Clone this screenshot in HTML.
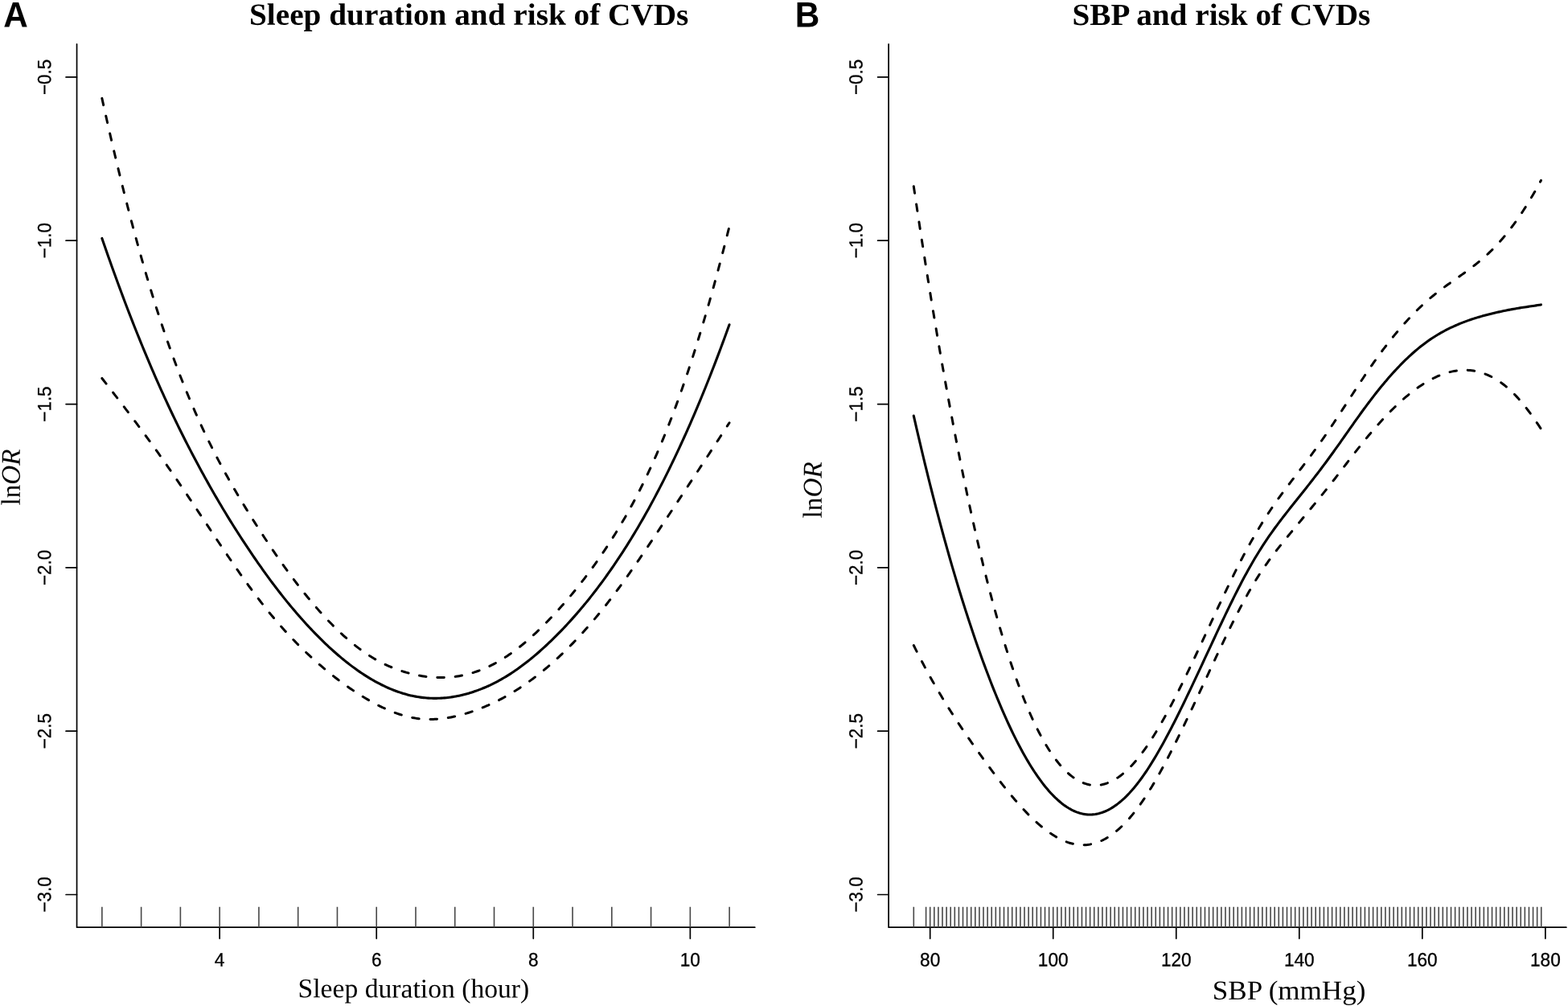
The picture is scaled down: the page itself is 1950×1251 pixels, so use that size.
<!DOCTYPE html>
<html lang="en"><head><meta charset="utf-8"><title>Sleep duration, SBP and risk of CVDs</title>
<style>html,body{margin:0;padding:0;background:#fff}body{width:1950px;height:1251px;overflow:hidden}svg{display:block}text{text-rendering:geometricPrecision;fill:#000}.sans{font-family:"Liberation Sans",Arial,Helvetica,sans-serif}.serif{font-family:"Liberation Serif","Times New Roman",Times,serif}.ax{stroke:#000;stroke-width:1.7;fill:none;stroke-linecap:round;stroke-linejoin:round}.rug{stroke:#484848;stroke-width:1.6;fill:none}.fit{stroke:#000;stroke-width:3.1;fill:none;stroke-linecap:round;stroke-linejoin:round}.ci{stroke:#000;stroke-width:3.0;fill:none;stroke-linecap:round;stroke-linejoin:round;stroke-dasharray:8.5 13.9}.tick{font-size:22.4px;text-anchor:middle;stroke:#000;stroke-width:0.3px}.lab{font-size:33.65px}.ttl{font-size:39.25px;font-weight:bold}.pan{font-size:41.5px;font-weight:bold}</style></head><body>
<svg xmlns="http://www.w3.org/2000/svg" width="1950" height="1251" viewBox="0 0 1950 1251">
<rect width="1950" height="1251" fill="#fff"/>
<g id="panel-A">
<path class="ax" d="M95.55,54.90 V1153.20 H938.80"/>
<path class="ax" d="M95.55,95.90 h-13.50M95.55,299.22 h-13.50M95.55,502.54 h-13.50M95.55,705.86 h-13.50M95.55,909.18 h-13.50M95.55,1112.50 h-13.50"/>
<path class="ax" d="M273.15,1153.20 v13.90M468.22,1153.20 v13.90M663.28,1153.20 v13.90M858.35,1153.20 v13.90"/>
<path class="rug" d="M126.85,1127.70 V1153.20M175.62,1127.70 V1153.20M224.38,1127.70 V1153.20M273.15,1127.70 V1153.20M321.92,1127.70 V1153.20M370.68,1127.70 V1153.20M419.45,1127.70 V1153.20M468.22,1127.70 V1153.20M516.98,1127.70 V1153.20M565.75,1127.70 V1153.20M614.52,1127.70 V1153.20M663.28,1127.70 V1153.20M712.05,1127.70 V1153.20M760.82,1127.70 V1153.20M809.58,1127.70 V1153.20M858.35,1127.70 V1153.20M907.12,1127.70 V1153.20"/>
<text class="sans tick" transform="matrix(0.0005,-1,1.05,0,63.25,95.90)">−0.5</text>
<text class="sans tick" transform="matrix(0.0005,-1,1.05,0,63.25,299.22)">−1.0</text>
<text class="sans tick" transform="matrix(0.0005,-1,1.05,0,63.25,502.54)">−1.5</text>
<text class="sans tick" transform="matrix(0.0005,-1,1.05,0,63.25,705.86)">−2.0</text>
<text class="sans tick" transform="matrix(0.0005,-1,1.05,0,63.25,909.18)">−2.5</text>
<text class="sans tick" transform="matrix(0.0005,-1,1.05,0,63.25,1112.50)">−3.0</text>
<text class="sans tick" transform="matrix(1.01,0.0005,0,1.06,273.15,1201.50)">4</text>
<text class="sans tick" transform="matrix(1.01,0.0005,0,1.06,468.22,1201.50)">6</text>
<text class="sans tick" transform="matrix(1.01,0.0005,0,1.06,663.28,1201.50)">8</text>
<text class="sans tick" transform="matrix(1.01,0.0005,0,1.06,858.35,1201.50)">10</text>
<text class="serif lab" transform="matrix(1,0.0005,0,1,514.40,1240.40)" text-anchor="middle">Sleep duration (hour)</text>
<text class="serif lab" transform="matrix(0.0005,-0.988,1,0,24.70,593.45)" text-anchor="middle">ln<tspan font-style="italic">OR</tspan></text>
<text class="serif ttl" transform="matrix(1,0.0005,0,0.975,583.20,30.80)" text-anchor="middle">Sleep duration and risk of CVDs</text>
<text class="sans pan" transform="matrix(1.02,0.0005,0,1.07,4.30,33.50)">A</text>
<path class="ci" stroke-dasharray="8.500 13.935" d="M126.85,122.32 L128.85,131.38 L130.85,140.36 L132.85,149.26 L134.85,158.07 L136.85,166.80 L138.85,175.45 L140.85,184.02 L142.85,192.51 L144.85,200.91 L146.85,209.23 L148.85,217.47 L150.85,225.62 L152.85,233.69 L154.85,241.68 L156.85,249.59 L158.85,257.41 L160.85,265.15 L162.85,272.81 L164.85,280.38 L166.85,287.88 L168.85,295.28 L170.85,302.61 L172.85,309.85 L174.85,317.01 L176.85,324.09 L178.85,331.08 L180.85,337.99 L182.85,344.82 L184.85,351.56 L186.85,358.22 L188.85,364.80 L190.85,371.29 L192.85,377.70 L194.85,384.03 L196.85,390.27 L198.85,396.43 L200.85,402.51 L202.85,408.50 L204.85,414.41 L206.85,420.24 L208.85,425.99 L210.85,431.66 L212.85,437.25 L214.85,442.76 L216.85,448.20 L218.85,453.57 L220.85,458.86 L222.85,464.08 L224.85,469.23 L226.85,474.31 L228.85,479.32 L230.85,484.27 L232.85,489.15 L234.85,493.96 L236.85,498.71 L238.85,503.40 L240.85,508.02 L242.85,512.59 L244.85,517.10 L246.85,521.55 L248.85,525.94 L250.85,530.28 L252.85,534.56 L254.85,538.79 L256.85,542.96 L258.85,547.09 L260.85,551.17 L262.85,555.19 L264.85,559.17 L266.85,563.11 L268.85,567.00 L270.85,570.84 L272.85,574.65 L274.85,578.41 L276.85,582.13 L278.85,585.81 L280.85,589.46 L282.85,593.06 L284.85,596.63 L286.85,600.17 L288.85,603.68 L290.85,607.15 L292.85,610.59 L294.85,614.00 L296.85,617.38 L298.85,620.74 L300.85,624.06 L302.85,627.37 L304.85,630.65 L306.85,633.90 L308.85,637.14 L310.85,640.35 L312.85,643.55 L314.85,646.73 L316.85,649.89 L318.85,653.03 L320.85,656.15 L322.85,659.26 L324.85,662.35 L326.85,665.42 L328.85,668.47 L330.85,671.51 L332.85,674.52 L334.85,677.52 L336.85,680.49 L338.85,683.45 L340.85,686.38 L342.85,689.30 L344.85,692.19 L346.85,695.06 L348.85,697.92 L350.85,700.75 L352.85,703.56 L354.85,706.34 L356.85,709.11 L358.85,711.85 L360.85,714.57 L362.85,717.27 L364.85,719.94 L366.85,722.60 L368.85,725.22 L370.85,727.83 L372.85,730.41 L374.85,732.96 L376.85,735.49 L378.85,738.00 L380.85,740.48 L382.85,742.93 L384.85,745.36 L386.85,747.77 L388.85,750.15 L390.85,752.50 L392.85,754.82 L394.85,757.12 L396.85,759.39 L398.85,761.63 L400.85,763.85 L402.85,766.04 L404.85,768.20 L406.85,770.33 L408.85,772.43 L410.85,774.51 L412.85,776.55 L414.85,778.57 L416.85,780.55 L418.85,782.51 L420.85,784.44 L422.85,786.33 L424.85,788.20 L426.85,790.03 L428.85,791.84 L430.85,793.61 L432.85,795.35 L434.85,797.06 L436.85,798.73 L438.85,800.38 L440.85,801.99 L442.85,803.57 L444.85,805.11 L446.85,806.63 L448.85,808.11 L450.85,809.55 L452.85,810.96 L454.85,812.34 L456.85,813.68 L458.85,814.99 L460.85,816.26 L462.85,817.50 L464.85,818.71 L466.85,819.88 L468.85,821.01 L470.85,822.11 L472.85,823.18 L474.85,824.21 L476.85,825.21 L478.85,826.18 L480.85,827.12 L482.85,828.03 L484.85,828.90 L486.85,829.75 L488.85,830.57 L490.85,831.36 L492.85,832.12 L494.85,832.85 L496.85,833.55 L498.85,834.23 L500.85,834.88 L502.85,835.50 L504.85,836.10 L506.85,836.67 L508.85,837.22 L510.85,837.74 L512.85,838.24 L514.85,838.71 L516.85,839.16 L518.85,839.57 L520.85,839.97 L522.85,840.33 L524.85,840.67 L526.85,840.98 L528.85,841.26 L530.85,841.52 L532.85,841.75 L534.85,841.95 L536.85,842.13 L538.85,842.27 L540.85,842.39 L542.85,842.48 L544.85,842.54 L546.85,842.57 L548.85,842.58 L550.85,842.55 L552.85,842.50 L554.85,842.41 L556.85,842.30 L558.85,842.15 L560.85,841.98 L562.85,841.78 L564.85,841.54 L566.85,841.28 L568.85,840.98 L570.85,840.66 L572.85,840.30 L574.85,839.91 L576.85,839.49 L578.85,839.04 L580.85,838.56 L582.85,838.04 L584.85,837.50 L586.85,836.92 L588.85,836.31 L590.85,835.66 L592.85,834.98 L594.85,834.28 L596.85,833.53 L598.85,832.76 L600.85,831.95 L602.85,831.10 L604.85,830.23 L606.85,829.32 L608.85,828.37 L610.85,827.39 L612.85,826.38 L614.85,825.33 L616.85,824.25 L618.85,823.13 L620.85,821.98 L622.85,820.79 L624.85,819.57 L626.85,818.32 L628.85,817.03 L630.85,815.71 L632.85,814.36 L634.85,812.98 L636.85,811.56 L638.85,810.11 L640.85,808.62 L642.85,807.11 L644.85,805.56 L646.85,803.98 L648.85,802.37 L650.85,800.73 L652.85,799.06 L654.85,797.35 L656.85,795.62 L658.85,793.86 L660.85,792.07 L662.85,790.25 L664.85,788.40 L666.85,786.53 L668.85,784.63 L670.85,782.70 L672.85,780.75 L674.85,778.77 L676.85,776.78 L678.85,774.75 L680.85,772.71 L682.85,770.64 L684.85,768.56 L686.85,766.45 L688.85,764.32 L690.85,762.16 L692.85,759.99 L694.85,757.79 L696.85,755.57 L698.85,753.33 L700.85,751.06 L702.85,748.77 L704.85,746.45 L706.85,744.12 L708.85,741.75 L710.85,739.36 L712.85,736.95 L714.85,734.51 L716.85,732.04 L718.85,729.55 L720.85,727.03 L722.85,724.48 L724.85,721.91 L726.85,719.30 L728.85,716.68 L730.85,714.02 L732.85,711.33 L734.85,708.62 L736.85,705.87 L738.85,703.10 L740.85,700.29 L742.85,697.46 L744.85,694.60 L746.85,691.70 L748.85,688.78 L750.85,685.82 L752.85,682.83 L754.85,679.81 L756.85,676.76 L758.85,673.67 L760.85,670.55 L762.85,667.39 L764.85,664.19 L766.85,660.96 L768.85,657.68 L770.85,654.37 L772.85,651.01 L774.85,647.61 L776.85,644.16 L778.85,640.67 L780.85,637.14 L782.85,633.55 L784.85,629.92 L786.85,626.24 L788.85,622.50 L790.85,618.72 L792.85,614.88 L794.85,610.99 L796.85,607.04 L798.85,603.04 L800.85,598.98 L802.85,594.85 L804.85,590.67 L806.85,586.43 L808.85,582.13 L810.85,577.77 L812.85,573.33 L814.85,568.84 L816.85,564.28 L818.85,559.65 L820.85,554.95 L822.85,550.18 L824.85,545.35 L826.85,540.44 L828.85,535.47 L830.85,530.43 L832.85,525.31 L834.85,520.12 L836.85,514.86 L838.85,509.53 L840.85,504.13 L842.85,498.65 L844.85,493.10 L846.85,487.47 L848.85,481.77 L850.85,476.00 L852.85,470.15 L854.85,464.22 L856.85,458.21 L858.85,452.13 L860.85,445.97 L862.85,439.74 L864.85,433.42 L866.85,427.03 L868.85,420.56 L870.85,414.01 L872.85,407.38 L874.85,400.67 L876.85,393.88 L878.85,387.02 L880.85,380.07 L882.85,373.04 L884.85,365.94 L886.85,358.75 L888.85,351.48 L890.85,344.13 L892.85,336.70 L894.85,329.19 L896.85,321.59 L898.85,313.91 L900.85,306.15 L902.85,298.31 L904.85,290.39 L907.02,281.71"/>
<path class="ci" stroke-dasharray="8.500 13.935" d="M126.85,470.46 L128.85,473.03 L130.85,475.60 L132.85,478.17 L134.85,480.74 L136.85,483.32 L138.85,485.90 L140.85,488.49 L142.85,491.07 L144.85,493.67 L146.85,496.26 L148.85,498.86 L150.85,501.47 L152.85,504.08 L154.85,506.70 L156.85,509.32 L158.85,511.95 L160.85,514.58 L162.85,517.22 L164.85,519.87 L166.85,522.53 L168.85,525.19 L170.85,527.87 L172.85,530.55 L174.85,533.24 L176.85,535.93 L178.85,538.64 L180.85,541.36 L182.85,544.08 L184.85,546.82 L186.85,549.57 L188.85,552.33 L190.85,555.10 L192.85,557.88 L194.85,560.67 L196.85,563.47 L198.85,566.29 L200.85,569.12 L202.85,571.95 L204.85,574.80 L206.85,577.66 L208.85,580.53 L210.85,583.41 L212.85,586.29 L214.85,589.19 L216.85,592.10 L218.85,595.01 L220.85,597.93 L222.85,600.87 L224.85,603.80 L226.85,606.75 L228.85,609.71 L230.85,612.67 L232.85,615.63 L234.85,618.61 L236.85,621.59 L238.85,624.58 L240.85,627.57 L242.85,630.57 L244.85,633.57 L246.85,636.58 L248.85,639.59 L250.85,642.60 L252.85,645.62 L254.85,648.64 L256.85,651.66 L258.85,654.68 L260.85,657.69 L262.85,660.71 L264.85,663.72 L266.85,666.73 L268.85,669.74 L270.85,672.74 L272.85,675.74 L274.85,678.72 L276.85,681.70 L278.85,684.68 L280.85,687.64 L282.85,690.59 L284.85,693.53 L286.85,696.46 L288.85,699.38 L290.85,702.29 L292.85,705.18 L294.85,708.06 L296.85,710.92 L298.85,713.77 L300.85,716.60 L302.85,719.42 L304.85,722.21 L306.85,724.99 L308.85,727.76 L310.85,730.50 L312.85,733.22 L314.85,735.93 L316.85,738.61 L318.85,741.27 L320.85,743.91 L322.85,746.52 L324.85,749.12 L326.85,751.68 L328.85,754.23 L330.85,756.74 L332.85,759.24 L334.85,761.70 L336.85,764.14 L338.85,766.55 L340.85,768.93 L342.85,771.29 L344.85,773.62 L346.85,775.93 L348.85,778.21 L350.85,780.47 L352.85,782.70 L354.85,784.90 L356.85,787.09 L358.85,789.24 L360.85,791.38 L362.85,793.49 L364.85,795.58 L366.85,797.64 L368.85,799.68 L370.85,801.70 L372.85,803.70 L374.85,805.67 L376.85,807.62 L378.85,809.55 L380.85,811.46 L382.85,813.35 L384.85,815.22 L386.85,817.07 L388.85,818.90 L390.85,820.70 L392.85,822.49 L394.85,824.26 L396.85,826.01 L398.85,827.74 L400.85,829.45 L402.85,831.15 L404.85,832.82 L406.85,834.48 L408.85,836.11 L410.85,837.73 L412.85,839.33 L414.85,840.91 L416.85,842.47 L418.85,844.01 L420.85,845.54 L422.85,847.04 L424.85,848.53 L426.85,849.99 L428.85,851.44 L430.85,852.87 L432.85,854.27 L434.85,855.66 L436.85,857.03 L438.85,858.38 L440.85,859.71 L442.85,861.03 L444.85,862.32 L446.85,863.59 L448.85,864.84 L450.85,866.08 L452.85,867.29 L454.85,868.49 L456.85,869.66 L458.85,870.82 L460.85,871.96 L462.85,873.07 L464.85,874.16 L466.85,875.23 L468.85,876.28 L470.85,877.31 L472.85,878.31 L474.85,879.28 L476.85,880.24 L478.85,881.16 L480.85,882.06 L482.85,882.93 L484.85,883.78 L486.85,884.60 L488.85,885.39 L490.85,886.15 L492.85,886.88 L494.85,887.58 L496.85,888.25 L498.85,888.89 L500.85,889.49 L502.85,890.07 L504.85,890.61 L506.85,891.12 L508.85,891.59 L510.85,892.03 L512.85,892.43 L514.85,892.80 L516.85,893.13 L518.85,893.42 L520.85,893.68 L522.85,893.90 L524.85,894.09 L526.85,894.24 L528.85,894.36 L530.85,894.44 L532.85,894.48 L534.85,894.50 L536.85,894.48 L538.85,894.43 L540.85,894.35 L542.85,894.24 L544.85,894.09 L546.85,893.92 L548.85,893.72 L550.85,893.48 L552.85,893.22 L554.85,892.93 L556.85,892.62 L558.85,892.27 L560.85,891.90 L562.85,891.51 L564.85,891.09 L566.85,890.64 L568.85,890.17 L570.85,889.68 L572.85,889.16 L574.85,888.62 L576.85,888.05 L578.85,887.47 L580.85,886.86 L582.85,886.23 L584.85,885.59 L586.85,884.92 L588.85,884.23 L590.85,883.52 L592.85,882.79 L594.85,882.04 L596.85,881.27 L598.85,880.48 L600.85,879.67 L602.85,878.84 L604.85,877.99 L606.85,877.11 L608.85,876.22 L610.85,875.31 L612.85,874.37 L614.85,873.41 L616.85,872.43 L618.85,871.43 L620.85,870.41 L622.85,869.37 L624.85,868.31 L626.85,867.22 L628.85,866.12 L630.85,864.99 L632.85,863.84 L634.85,862.66 L636.85,861.47 L638.85,860.25 L640.85,859.02 L642.85,857.76 L644.85,856.48 L646.85,855.17 L648.85,853.84 L650.85,852.50 L652.85,851.12 L654.85,849.73 L656.85,848.31 L658.85,846.88 L660.85,845.41 L662.85,843.93 L664.85,842.42 L666.85,840.89 L668.85,839.34 L670.85,837.76 L672.85,836.17 L674.85,834.54 L676.85,832.90 L678.85,831.23 L680.85,829.54 L682.85,827.83 L684.85,826.09 L686.85,824.33 L688.85,822.55 L690.85,820.74 L692.85,818.92 L694.85,817.07 L696.85,815.19 L698.85,813.29 L700.85,811.37 L702.85,809.43 L704.85,807.46 L706.85,805.47 L708.85,803.46 L710.85,801.42 L712.85,799.36 L714.85,797.28 L716.85,795.17 L718.85,793.05 L720.85,790.89 L722.85,788.72 L724.85,786.52 L726.85,784.30 L728.85,782.05 L730.85,779.78 L732.85,777.49 L734.85,775.18 L736.85,772.84 L738.85,770.48 L740.85,768.09 L742.85,765.68 L744.85,763.25 L746.85,760.79 L748.85,758.31 L750.85,755.81 L752.85,753.29 L754.85,750.74 L756.85,748.16 L758.85,745.57 L760.85,742.95 L762.85,740.31 L764.85,737.65 L766.85,734.96 L768.85,732.26 L770.85,729.54 L772.85,726.79 L774.85,724.03 L776.85,721.25 L778.85,718.46 L780.85,715.64 L782.85,712.82 L784.85,709.97 L786.85,707.11 L788.85,704.24 L790.85,701.35 L792.85,698.46 L794.85,695.54 L796.85,692.62 L798.85,689.69 L800.85,686.74 L802.85,683.79 L804.85,680.83 L806.85,677.86 L808.85,674.88 L810.85,671.89 L812.85,668.90 L814.85,665.90 L816.85,662.89 L818.85,659.88 L820.85,656.87 L822.85,653.85 L824.85,650.83 L826.85,647.81 L828.85,644.79 L830.85,641.76 L832.85,638.74 L834.85,635.72 L836.85,632.69 L838.85,629.67 L840.85,626.64 L842.85,623.62 L844.85,620.59 L846.85,617.57 L848.85,614.54 L850.85,611.51 L852.85,608.49 L854.85,605.46 L856.85,602.43 L858.85,599.40 L860.85,596.37 L862.85,593.34 L864.85,590.30 L866.85,587.27 L868.85,584.23 L870.85,581.19 L872.85,578.15 L874.85,575.11 L876.85,572.06 L878.85,569.02 L880.85,565.97 L882.85,562.91 L884.85,559.86 L886.85,556.80 L888.85,553.74 L890.85,550.68 L892.85,547.61 L894.85,544.55 L896.85,541.47 L898.85,538.40 L900.85,535.32 L902.85,532.24 L904.85,529.15 L907.02,525.80"/>
<path class="fit" d="M126.85,296.39 L128.85,302.20 L130.85,307.98 L132.85,313.71 L134.85,319.41 L136.85,325.06 L138.85,330.68 L140.85,336.25 L142.85,341.79 L144.85,347.29 L146.85,352.75 L148.85,358.16 L150.85,363.54 L152.85,368.89 L154.85,374.19 L156.85,379.45 L158.85,384.68 L160.85,389.87 L162.85,395.02 L164.85,400.13 L166.85,405.20 L168.85,410.24 L170.85,415.24 L172.85,420.20 L174.85,425.12 L176.85,430.01 L178.85,434.86 L180.85,439.68 L182.85,444.45 L184.85,449.19 L186.85,453.90 L188.85,458.56 L190.85,463.20 L192.85,467.79 L194.85,472.35 L196.85,476.87 L198.85,481.36 L200.85,485.81 L202.85,490.23 L204.85,494.61 L206.85,498.95 L208.85,503.26 L210.85,507.53 L212.85,511.77 L214.85,515.98 L216.85,520.15 L218.85,524.29 L220.85,528.40 L222.85,532.47 L224.85,536.52 L226.85,540.53 L228.85,544.51 L230.85,548.47 L232.85,552.39 L234.85,556.28 L236.85,560.15 L238.85,563.99 L240.85,567.80 L242.85,571.58 L244.85,575.33 L246.85,579.06 L248.85,582.76 L250.85,586.44 L252.85,590.09 L254.85,593.71 L256.85,597.31 L258.85,600.88 L260.85,604.43 L262.85,607.95 L264.85,611.45 L266.85,614.92 L268.85,618.37 L270.85,621.79 L272.85,625.19 L274.85,628.57 L276.85,631.92 L278.85,635.24 L280.85,638.55 L282.85,641.83 L284.85,645.08 L286.85,648.32 L288.85,651.53 L290.85,654.72 L292.85,657.88 L294.85,661.03 L296.85,664.15 L298.85,667.25 L300.85,670.33 L302.85,673.39 L304.85,676.43 L306.85,679.45 L308.85,682.45 L310.85,685.43 L312.85,688.39 L314.85,691.33 L316.85,694.25 L318.85,697.15 L320.85,700.03 L322.85,702.89 L324.85,705.73 L326.85,708.55 L328.85,711.35 L330.85,714.12 L332.85,716.88 L334.85,719.61 L336.85,722.31 L338.85,725.00 L340.85,727.66 L342.85,730.29 L344.85,732.91 L346.85,735.50 L348.85,738.06 L350.85,740.61 L352.85,743.13 L354.85,745.62 L356.85,748.10 L358.85,750.55 L360.85,752.98 L362.85,755.38 L364.85,757.76 L366.85,760.12 L368.85,762.45 L370.85,764.76 L372.85,767.05 L374.85,769.32 L376.85,771.56 L378.85,773.78 L380.85,775.97 L382.85,778.14 L384.85,780.29 L386.85,782.42 L388.85,784.52 L390.85,786.60 L392.85,788.66 L394.85,790.69 L396.85,792.70 L398.85,794.69 L400.85,796.65 L402.85,798.59 L404.85,800.51 L406.85,802.40 L408.85,804.27 L410.85,806.12 L412.85,807.94 L414.85,809.74 L416.85,811.51 L418.85,813.26 L420.85,814.99 L422.85,816.69 L424.85,818.36 L426.85,820.01 L428.85,821.64 L430.85,823.24 L432.85,824.81 L434.85,826.36 L436.85,827.88 L438.85,829.38 L440.85,830.85 L442.85,832.30 L444.85,833.72 L446.85,835.11 L448.85,836.47 L450.85,837.81 L452.85,839.13 L454.85,840.41 L456.85,841.67 L458.85,842.91 L460.85,844.11 L462.85,845.29 L464.85,846.44 L466.85,847.56 L468.85,848.65 L470.85,849.71 L472.85,850.74 L474.85,851.75 L476.85,852.72 L478.85,853.67 L480.85,854.59 L482.85,855.48 L484.85,856.34 L486.85,857.17 L488.85,857.98 L490.85,858.75 L492.85,859.50 L494.85,860.21 L496.85,860.90 L498.85,861.56 L500.85,862.19 L502.85,862.78 L504.85,863.35 L506.85,863.89 L508.85,864.41 L510.85,864.89 L512.85,865.34 L514.85,865.75 L516.85,866.14 L518.85,866.50 L520.85,866.82 L522.85,867.12 L524.85,867.38 L526.85,867.61 L528.85,867.81 L530.85,867.98 L532.85,868.12 L534.85,868.23 L536.85,868.30 L538.85,868.35 L540.85,868.37 L542.85,868.36 L544.85,868.32 L546.85,868.25 L548.85,868.15 L550.85,868.02 L552.85,867.86 L554.85,867.67 L556.85,867.46 L558.85,867.21 L560.85,866.94 L562.85,866.64 L564.85,866.31 L566.85,865.96 L568.85,865.58 L570.85,865.17 L572.85,864.73 L574.85,864.26 L576.85,863.77 L578.85,863.25 L580.85,862.71 L582.85,862.14 L584.85,861.54 L586.85,860.92 L588.85,860.27 L590.85,859.59 L592.85,858.89 L594.85,858.16 L596.85,857.40 L598.85,856.62 L600.85,855.81 L602.85,854.97 L604.85,854.11 L606.85,853.22 L608.85,852.30 L610.85,851.35 L612.85,850.37 L614.85,849.37 L616.85,848.34 L618.85,847.28 L620.85,846.20 L622.85,845.08 L624.85,843.94 L626.85,842.77 L628.85,841.57 L630.85,840.35 L632.85,839.10 L634.85,837.82 L636.85,836.51 L638.85,835.18 L640.85,833.82 L642.85,832.43 L644.85,831.02 L646.85,829.58 L648.85,828.11 L650.85,826.61 L652.85,825.09 L654.85,823.54 L656.85,821.97 L658.85,820.37 L660.85,818.74 L662.85,817.09 L664.85,815.41 L666.85,813.71 L668.85,811.98 L670.85,810.23 L672.85,808.46 L674.85,806.66 L676.85,804.84 L678.85,802.99 L680.85,801.13 L682.85,799.24 L684.85,797.32 L686.85,795.39 L688.85,793.43 L690.85,791.45 L692.85,789.45 L694.85,787.43 L696.85,785.38 L698.85,783.31 L700.85,781.22 L702.85,779.10 L704.85,776.96 L706.85,774.79 L708.85,772.60 L710.85,770.39 L712.85,768.15 L714.85,765.89 L716.85,763.61 L718.85,761.30 L720.85,758.96 L722.85,756.60 L724.85,754.21 L726.85,751.80 L728.85,749.36 L730.85,746.90 L732.85,744.41 L734.85,741.90 L736.85,739.35 L738.85,736.79 L740.85,734.19 L742.85,731.57 L744.85,728.92 L746.85,726.25 L748.85,723.55 L750.85,720.82 L752.85,718.06 L754.85,715.27 L756.85,712.46 L758.85,709.62 L760.85,706.75 L762.85,703.85 L764.85,700.92 L766.85,697.96 L768.85,694.97 L770.85,691.95 L772.85,688.90 L774.85,685.82 L776.85,682.71 L778.85,679.56 L780.85,676.39 L782.85,673.18 L784.85,669.95 L786.85,666.68 L788.85,663.37 L790.85,660.04 L792.85,656.67 L794.85,653.27 L796.85,649.83 L798.85,646.36 L800.85,642.86 L802.85,639.32 L804.85,635.75 L806.85,632.15 L808.85,628.50 L810.85,624.83 L812.85,621.12 L814.85,617.37 L816.85,613.59 L818.85,609.77 L820.85,605.91 L822.85,602.02 L824.85,598.09 L826.85,594.13 L828.85,590.13 L830.85,586.09 L832.85,582.02 L834.85,577.92 L836.85,573.78 L838.85,569.60 L840.85,565.38 L842.85,561.13 L844.85,556.85 L846.85,552.52 L848.85,548.16 L850.85,543.76 L852.85,539.32 L854.85,534.84 L856.85,530.32 L858.85,525.77 L860.85,521.17 L862.85,516.54 L864.85,511.86 L866.85,507.15 L868.85,502.39 L870.85,497.60 L872.85,492.76 L874.85,487.89 L876.85,482.97 L878.85,478.02 L880.85,473.02 L882.85,467.98 L884.85,462.90 L886.85,457.78 L888.85,452.61 L890.85,447.40 L892.85,442.16 L894.85,436.87 L896.85,431.53 L898.85,426.16 L900.85,420.74 L902.85,415.27 L904.85,409.77 L907.02,403.76"/>
</g>
<g id="panel-B">
<path class="ax" d="M1105.10,54.90 V1153.20 H1947.90"/>
<path class="ax" d="M1105.10,95.90 h-13.50M1105.10,299.22 h-13.50M1105.10,502.54 h-13.50M1105.10,705.86 h-13.50M1105.10,909.18 h-13.50M1105.10,1112.50 h-13.50"/>
<path class="ax" d="M1156.70,1153.20 v13.90M1309.73,1153.20 v13.90M1462.76,1153.20 v13.90M1615.79,1153.20 v13.90M1768.82,1153.20 v13.90M1921.85,1153.20 v13.90"/>
<path class="rug" d="M1136.30,1127.70 V1153.20M1151.60,1127.70 V1153.20M1156.70,1127.70 V1153.20M1161.80,1127.70 V1153.20M1166.90,1127.70 V1153.20M1172.00,1127.70 V1153.20M1177.10,1127.70 V1153.20M1182.20,1127.70 V1153.20M1187.31,1127.70 V1153.20M1192.41,1127.70 V1153.20M1197.51,1127.70 V1153.20M1202.61,1127.70 V1153.20M1207.71,1127.70 V1153.20M1212.81,1127.70 V1153.20M1217.91,1127.70 V1153.20M1223.01,1127.70 V1153.20M1228.11,1127.70 V1153.20M1233.22,1127.70 V1153.20M1238.32,1127.70 V1153.20M1243.42,1127.70 V1153.20M1248.52,1127.70 V1153.20M1253.62,1127.70 V1153.20M1258.72,1127.70 V1153.20M1263.82,1127.70 V1153.20M1268.92,1127.70 V1153.20M1274.02,1127.70 V1153.20M1279.12,1127.70 V1153.20M1284.22,1127.70 V1153.20M1289.33,1127.70 V1153.20M1294.43,1127.70 V1153.20M1299.53,1127.70 V1153.20M1304.63,1127.70 V1153.20M1309.73,1127.70 V1153.20M1314.83,1127.70 V1153.20M1319.93,1127.70 V1153.20M1325.03,1127.70 V1153.20M1330.13,1127.70 V1153.20M1335.23,1127.70 V1153.20M1340.34,1127.70 V1153.20M1345.44,1127.70 V1153.20M1350.54,1127.70 V1153.20M1355.64,1127.70 V1153.20M1360.74,1127.70 V1153.20M1365.84,1127.70 V1153.20M1370.94,1127.70 V1153.20M1376.04,1127.70 V1153.20M1381.14,1127.70 V1153.20M1386.24,1127.70 V1153.20M1391.35,1127.70 V1153.20M1396.45,1127.70 V1153.20M1401.55,1127.70 V1153.20M1406.65,1127.70 V1153.20M1411.75,1127.70 V1153.20M1416.85,1127.70 V1153.20M1421.95,1127.70 V1153.20M1427.05,1127.70 V1153.20M1432.15,1127.70 V1153.20M1437.25,1127.70 V1153.20M1442.36,1127.70 V1153.20M1447.46,1127.70 V1153.20M1452.56,1127.70 V1153.20M1457.66,1127.70 V1153.20M1462.76,1127.70 V1153.20M1467.86,1127.70 V1153.20M1472.96,1127.70 V1153.20M1478.06,1127.70 V1153.20M1483.16,1127.70 V1153.20M1488.26,1127.70 V1153.20M1493.37,1127.70 V1153.20M1498.47,1127.70 V1153.20M1503.57,1127.70 V1153.20M1508.67,1127.70 V1153.20M1513.77,1127.70 V1153.20M1518.87,1127.70 V1153.20M1523.97,1127.70 V1153.20M1529.07,1127.70 V1153.20M1534.17,1127.70 V1153.20M1539.28,1127.70 V1153.20M1544.38,1127.70 V1153.20M1549.48,1127.70 V1153.20M1554.58,1127.70 V1153.20M1559.68,1127.70 V1153.20M1564.78,1127.70 V1153.20M1569.88,1127.70 V1153.20M1574.98,1127.70 V1153.20M1580.08,1127.70 V1153.20M1585.18,1127.70 V1153.20M1590.28,1127.70 V1153.20M1595.39,1127.70 V1153.20M1600.49,1127.70 V1153.20M1605.59,1127.70 V1153.20M1610.69,1127.70 V1153.20M1615.79,1127.70 V1153.20M1620.89,1127.70 V1153.20M1625.99,1127.70 V1153.20M1631.09,1127.70 V1153.20M1636.19,1127.70 V1153.20M1641.29,1127.70 V1153.20M1646.40,1127.70 V1153.20M1651.50,1127.70 V1153.20M1656.60,1127.70 V1153.20M1661.70,1127.70 V1153.20M1666.80,1127.70 V1153.20M1671.90,1127.70 V1153.20M1677.00,1127.70 V1153.20M1682.10,1127.70 V1153.20M1687.20,1127.70 V1153.20M1692.30,1127.70 V1153.20M1697.41,1127.70 V1153.20M1702.51,1127.70 V1153.20M1707.61,1127.70 V1153.20M1712.71,1127.70 V1153.20M1717.81,1127.70 V1153.20M1722.91,1127.70 V1153.20M1728.01,1127.70 V1153.20M1733.11,1127.70 V1153.20M1738.21,1127.70 V1153.20M1743.31,1127.70 V1153.20M1748.42,1127.70 V1153.20M1753.52,1127.70 V1153.20M1758.62,1127.70 V1153.20M1763.72,1127.70 V1153.20M1768.82,1127.70 V1153.20M1773.92,1127.70 V1153.20M1779.02,1127.70 V1153.20M1784.12,1127.70 V1153.20M1789.22,1127.70 V1153.20M1794.32,1127.70 V1153.20M1799.43,1127.70 V1153.20M1804.53,1127.70 V1153.20M1809.63,1127.70 V1153.20M1814.73,1127.70 V1153.20M1819.83,1127.70 V1153.20M1824.93,1127.70 V1153.20M1830.03,1127.70 V1153.20M1835.13,1127.70 V1153.20M1840.23,1127.70 V1153.20M1845.34,1127.70 V1153.20M1850.44,1127.70 V1153.20M1855.54,1127.70 V1153.20M1860.64,1127.70 V1153.20M1865.74,1127.70 V1153.20M1870.84,1127.70 V1153.20M1875.94,1127.70 V1153.20M1881.04,1127.70 V1153.20M1886.14,1127.70 V1153.20M1891.24,1127.70 V1153.20M1896.34,1127.70 V1153.20M1901.45,1127.70 V1153.20M1906.55,1127.70 V1153.20M1911.65,1127.70 V1153.20M1916.75,1127.70 V1153.20"/>
<text class="sans tick" transform="matrix(0.0005,-1,1.05,0,1072.55,95.90)">−0.5</text>
<text class="sans tick" transform="matrix(0.0005,-1,1.05,0,1072.55,299.22)">−1.0</text>
<text class="sans tick" transform="matrix(0.0005,-1,1.05,0,1072.55,502.54)">−1.5</text>
<text class="sans tick" transform="matrix(0.0005,-1,1.05,0,1072.55,705.86)">−2.0</text>
<text class="sans tick" transform="matrix(0.0005,-1,1.05,0,1072.55,909.18)">−2.5</text>
<text class="sans tick" transform="matrix(0.0005,-1,1.05,0,1072.55,1112.50)">−3.0</text>
<text class="sans tick" transform="matrix(1.01,0.0005,0,1.06,1156.70,1201.50)">80</text>
<text class="sans tick" transform="matrix(1.01,0.0005,0,1.06,1309.73,1201.50)">100</text>
<text class="sans tick" transform="matrix(1.01,0.0005,0,1.06,1462.76,1201.50)">120</text>
<text class="sans tick" transform="matrix(1.01,0.0005,0,1.06,1615.79,1201.50)">140</text>
<text class="sans tick" transform="matrix(1.01,0.0005,0,1.06,1768.82,1201.50)">160</text>
<text class="sans tick" transform="matrix(1.01,0.0005,0,1.06,1921.85,1201.50)">180</text>
<text class="serif lab" transform="matrix(1.042,0.0005,0,1,1603.10,1242.70)" text-anchor="middle">SBP (mmHg)</text>
<text class="serif lab" transform="matrix(0.0005,-0.988,1,0,1021.70,609.40)" text-anchor="middle">ln<tspan font-style="italic">OR</tspan></text>
<text class="serif ttl" transform="matrix(1,0.0005,0,0.975,1518.90,31.00)" text-anchor="middle">SBP and risk of CVDs</text>
<text class="sans pan" transform="matrix(1.02,0.0005,0,1.07,988.80,33.50)">B</text>
<path class="ci" stroke-dasharray="8.500 13.920" d="M1136.30,231.74 L1138.30,245.24 L1140.30,258.62 L1142.30,271.88 L1144.30,285.02 L1146.30,298.04 L1148.30,310.93 L1150.30,323.71 L1152.30,336.36 L1154.30,348.89 L1156.30,361.30 L1158.30,373.59 L1160.30,385.75 L1162.30,397.79 L1164.30,409.71 L1166.30,421.51 L1168.30,433.18 L1170.30,444.73 L1172.30,456.15 L1174.30,467.45 L1176.30,478.62 L1178.30,489.68 L1180.30,500.60 L1182.30,511.40 L1184.30,522.08 L1186.30,532.63 L1188.30,543.06 L1190.30,553.36 L1192.30,563.53 L1194.30,573.58 L1196.30,583.50 L1198.30,593.30 L1200.30,602.97 L1202.30,612.51 L1204.30,621.92 L1206.30,631.21 L1208.30,640.37 L1210.30,649.40 L1212.30,658.31 L1214.30,667.08 L1216.30,675.73 L1218.30,684.25 L1220.30,692.64 L1222.30,700.91 L1224.30,709.04 L1226.30,717.05 L1228.30,724.93 L1230.30,732.68 L1232.30,740.31 L1234.30,747.81 L1236.30,755.18 L1238.30,762.43 L1240.30,769.55 L1242.30,776.54 L1244.30,783.41 L1246.30,790.15 L1248.30,796.77 L1250.30,803.26 L1252.30,809.62 L1254.30,815.86 L1256.30,821.98 L1258.30,827.97 L1260.30,833.84 L1262.30,839.58 L1264.30,845.20 L1266.30,850.70 L1268.30,856.07 L1270.30,861.32 L1272.30,866.45 L1274.30,871.45 L1276.30,876.33 L1278.30,881.09 L1280.30,885.73 L1282.30,890.24 L1284.30,894.64 L1286.30,898.91 L1288.30,903.06 L1290.30,907.09 L1292.30,911.00 L1294.30,914.79 L1296.30,918.46 L1298.30,922.02 L1300.30,925.45 L1302.30,928.77 L1304.30,931.98 L1306.30,935.06 L1308.30,938.03 L1310.30,940.89 L1312.30,943.63 L1314.30,946.26 L1316.30,948.78 L1318.30,951.18 L1320.30,953.47 L1322.30,955.64 L1324.30,957.71 L1326.30,959.67 L1328.30,961.51 L1330.30,963.25 L1332.30,964.87 L1334.30,966.39 L1336.30,967.80 L1338.30,969.10 L1340.30,970.29 L1342.30,971.38 L1344.30,972.36 L1346.30,973.24 L1348.30,974.01 L1350.30,974.68 L1352.30,975.24 L1354.30,975.70 L1356.30,976.06 L1358.30,976.31 L1360.30,976.47 L1362.30,976.52 L1364.30,976.47 L1366.30,976.32 L1368.30,976.07 L1370.30,975.72 L1372.30,975.27 L1374.30,974.73 L1376.30,974.08 L1378.30,973.34 L1380.30,972.51 L1382.30,971.57 L1384.30,970.55 L1386.30,969.42 L1388.30,968.20 L1390.30,966.89 L1392.30,965.49 L1394.30,963.99 L1396.30,962.40 L1398.30,960.72 L1400.30,958.94 L1402.30,957.08 L1404.30,955.13 L1406.30,953.08 L1408.30,950.95 L1410.30,948.73 L1412.30,946.42 L1414.30,944.02 L1416.30,941.54 L1418.30,938.98 L1420.30,936.34 L1422.30,933.62 L1424.30,930.82 L1426.30,927.95 L1428.30,925.00 L1430.30,921.99 L1432.30,918.90 L1434.30,915.75 L1436.30,912.53 L1438.30,909.25 L1440.30,905.91 L1442.30,902.51 L1444.30,899.05 L1446.30,895.54 L1448.30,891.97 L1450.30,888.35 L1452.30,884.68 L1454.30,880.97 L1456.30,877.20 L1458.30,873.39 L1460.30,869.54 L1462.30,865.65 L1464.30,861.72 L1466.30,857.76 L1468.30,853.75 L1470.30,849.72 L1472.30,845.66 L1474.30,841.56 L1476.30,837.44 L1478.30,833.29 L1480.30,829.12 L1482.30,824.93 L1484.30,820.72 L1486.30,816.49 L1488.30,812.25 L1490.30,807.99 L1492.30,803.72 L1494.30,799.43 L1496.30,795.14 L1498.30,790.85 L1500.30,786.55 L1502.30,782.25 L1504.30,777.94 L1506.30,773.64 L1508.30,769.34 L1510.30,765.05 L1512.30,760.76 L1514.30,756.48 L1516.30,752.21 L1518.30,747.96 L1520.30,743.72 L1522.30,739.50 L1524.30,735.30 L1526.30,731.12 L1528.30,726.96 L1530.30,722.84 L1532.30,718.74 L1534.30,714.68 L1536.30,710.65 L1538.30,706.66 L1540.30,702.71 L1542.30,698.80 L1544.30,694.94 L1546.30,691.13 L1548.30,687.37 L1550.30,683.66 L1552.30,679.99 L1554.30,676.38 L1556.30,672.81 L1558.30,669.29 L1560.30,665.82 L1562.30,662.40 L1564.30,659.03 L1566.30,655.70 L1568.30,652.42 L1570.30,649.19 L1572.30,646.01 L1574.30,642.87 L1576.30,639.78 L1578.30,636.74 L1580.30,633.74 L1582.30,630.79 L1584.30,627.88 L1586.30,625.01 L1588.30,622.18 L1590.30,619.39 L1592.30,616.62 L1594.30,613.89 L1596.30,611.18 L1598.30,608.49 L1600.30,605.82 L1602.30,603.18 L1604.30,600.54 L1606.30,597.92 L1608.30,595.31 L1610.30,592.70 L1612.30,590.09 L1614.30,587.49 L1616.30,584.88 L1618.30,582.27 L1620.30,579.65 L1622.30,577.02 L1624.30,574.38 L1626.30,571.72 L1628.30,569.05 L1630.30,566.37 L1632.30,563.66 L1634.30,560.94 L1636.30,558.20 L1638.30,555.44 L1640.30,552.65 L1642.30,549.84 L1644.30,547.00 L1646.30,544.14 L1648.30,541.25 L1650.30,538.34 L1652.30,535.40 L1654.30,532.44 L1656.30,529.46 L1658.30,526.46 L1660.30,523.45 L1662.30,520.42 L1664.30,517.37 L1666.30,514.32 L1668.30,511.26 L1670.30,508.19 L1672.30,505.11 L1674.30,502.03 L1676.30,498.95 L1678.30,495.87 L1680.30,492.79 L1682.30,489.72 L1684.30,486.65 L1686.30,483.59 L1688.30,480.54 L1690.30,477.50 L1692.30,474.47 L1694.30,471.46 L1696.30,468.46 L1698.30,465.49 L1700.30,462.53 L1702.30,459.60 L1704.30,456.69 L1706.30,453.81 L1708.30,450.95 L1710.30,448.13 L1712.30,445.33 L1714.30,442.57 L1716.30,439.83 L1718.30,437.13 L1720.30,434.46 L1722.30,431.82 L1724.30,429.21 L1726.30,426.63 L1728.30,424.08 L1730.30,421.57 L1732.30,419.09 L1734.30,416.64 L1736.30,414.22 L1738.30,411.83 L1740.30,409.47 L1742.30,407.15 L1744.30,404.86 L1746.30,402.61 L1748.30,400.38 L1750.30,398.19 L1752.30,396.03 L1754.30,393.91 L1756.30,391.82 L1758.30,389.76 L1760.30,387.74 L1762.30,385.74 L1764.30,383.79 L1766.30,381.87 L1768.30,379.98 L1770.30,378.12 L1772.30,376.30 L1774.30,374.52 L1776.30,372.77 L1778.30,371.05 L1780.30,369.37 L1782.30,367.72 L1784.30,366.11 L1786.30,364.53 L1788.30,362.97 L1790.30,361.44 L1792.30,359.93 L1794.30,358.44 L1796.30,356.97 L1798.30,355.52 L1800.30,354.08 L1802.30,352.66 L1804.30,351.24 L1806.30,349.83 L1808.30,348.42 L1810.30,347.02 L1812.30,345.61 L1814.30,344.20 L1816.30,342.79 L1818.30,341.37 L1820.30,339.95 L1822.30,338.51 L1824.30,337.05 L1826.30,335.58 L1828.30,334.09 L1830.30,332.59 L1832.30,331.05 L1834.30,329.49 L1836.30,327.91 L1838.30,326.29 L1840.30,324.64 L1842.30,322.96 L1844.30,321.24 L1846.30,319.48 L1848.30,317.68 L1850.30,315.83 L1852.30,313.94 L1854.30,311.99 L1856.30,310.00 L1858.30,307.96 L1860.30,305.87 L1862.30,303.72 L1864.30,301.52 L1866.30,299.27 L1868.30,296.96 L1870.30,294.61 L1872.30,292.19 L1874.30,289.73 L1876.30,287.21 L1878.30,284.63 L1880.30,282.00 L1882.30,279.31 L1884.30,276.57 L1886.30,273.76 L1888.30,270.91 L1890.30,267.99 L1892.30,265.01 L1894.30,261.98 L1896.30,258.89 L1898.30,255.73 L1900.30,252.52 L1902.30,249.25 L1904.30,245.92 L1906.30,242.52 L1908.30,239.07 L1910.30,235.55 L1912.30,231.97 L1914.30,228.33 L1916.40,224.43"/>
<path class="ci" stroke-dasharray="8.500 13.920" d="M1136.30,802.53 L1138.30,806.58 L1140.30,810.57 L1142.30,814.52 L1144.30,818.42 L1146.30,822.27 L1148.30,826.07 L1150.30,829.83 L1152.30,833.54 L1154.30,837.21 L1156.30,840.83 L1158.30,844.41 L1160.30,847.95 L1162.30,851.46 L1164.30,854.92 L1166.30,858.34 L1168.30,861.73 L1170.30,865.08 L1172.30,868.40 L1174.30,871.68 L1176.30,874.93 L1178.30,878.15 L1180.30,881.34 L1182.30,884.49 L1184.30,887.62 L1186.30,890.72 L1188.30,893.80 L1190.30,896.85 L1192.30,899.87 L1194.30,902.87 L1196.30,905.85 L1198.30,908.80 L1200.30,911.74 L1202.30,914.65 L1204.30,917.55 L1206.30,920.43 L1208.30,923.29 L1210.30,926.13 L1212.30,928.97 L1214.30,931.78 L1216.30,934.59 L1218.30,937.38 L1220.30,940.17 L1222.30,942.94 L1224.30,945.70 L1226.30,948.45 L1228.30,951.19 L1230.30,953.91 L1232.30,956.62 L1234.30,959.31 L1236.30,961.98 L1238.30,964.64 L1240.30,967.28 L1242.30,969.89 L1244.30,972.48 L1246.30,975.06 L1248.30,977.60 L1250.30,980.12 L1252.30,982.62 L1254.30,985.09 L1256.30,987.53 L1258.30,989.94 L1260.30,992.32 L1262.30,994.67 L1264.30,996.99 L1266.30,999.27 L1268.30,1001.52 L1270.30,1003.74 L1272.30,1005.91 L1274.30,1008.05 L1276.30,1010.15 L1278.30,1012.21 L1280.30,1014.23 L1282.30,1016.21 L1284.30,1018.14 L1286.30,1020.03 L1288.30,1021.87 L1290.30,1023.67 L1292.30,1025.42 L1294.30,1027.12 L1296.30,1028.77 L1298.30,1030.37 L1300.30,1031.92 L1302.30,1033.42 L1304.30,1034.86 L1306.30,1036.25 L1308.30,1037.58 L1310.30,1038.85 L1312.30,1040.07 L1314.30,1041.22 L1316.30,1042.32 L1318.30,1043.35 L1320.30,1044.33 L1322.30,1045.23 L1324.30,1046.08 L1326.30,1046.85 L1328.30,1047.56 L1330.30,1048.21 L1332.30,1048.78 L1334.30,1049.28 L1336.30,1049.72 L1338.30,1050.07 L1340.30,1050.36 L1342.30,1050.57 L1344.30,1050.71 L1346.30,1050.77 L1348.30,1050.75 L1350.30,1050.66 L1352.30,1050.48 L1354.30,1050.22 L1356.30,1049.88 L1358.30,1049.46 L1360.30,1048.96 L1362.30,1048.38 L1364.30,1047.72 L1366.30,1046.98 L1368.30,1046.16 L1370.30,1045.26 L1372.30,1044.28 L1374.30,1043.22 L1376.30,1042.08 L1378.30,1040.86 L1380.30,1039.56 L1382.30,1038.18 L1384.30,1036.72 L1386.30,1035.18 L1388.30,1033.57 L1390.30,1031.87 L1392.30,1030.10 L1394.30,1028.25 L1396.30,1026.32 L1398.30,1024.31 L1400.30,1022.23 L1402.30,1020.07 L1404.30,1017.83 L1406.30,1015.51 L1408.30,1013.11 L1410.30,1010.64 L1412.30,1008.09 L1414.30,1005.47 L1416.30,1002.76 L1418.30,999.98 L1420.30,997.13 L1422.30,994.20 L1424.30,991.19 L1426.30,988.11 L1428.30,984.96 L1430.30,981.74 L1432.30,978.46 L1434.30,975.11 L1436.30,971.70 L1438.30,968.24 L1440.30,964.71 L1442.30,961.13 L1444.30,957.50 L1446.30,953.81 L1448.30,950.08 L1450.30,946.30 L1452.30,942.48 L1454.30,938.62 L1456.30,934.71 L1458.30,930.77 L1460.30,926.80 L1462.30,922.79 L1464.30,918.75 L1466.30,914.68 L1468.30,910.58 L1470.30,906.46 L1472.30,902.32 L1474.30,898.15 L1476.30,893.97 L1478.30,889.76 L1480.30,885.54 L1482.30,881.30 L1484.30,877.06 L1486.30,872.79 L1488.30,868.52 L1490.30,864.25 L1492.30,859.96 L1494.30,855.67 L1496.30,851.38 L1498.30,847.09 L1500.30,842.80 L1502.30,838.51 L1504.30,834.23 L1506.30,829.95 L1508.30,825.68 L1510.30,821.41 L1512.30,817.16 L1514.30,812.93 L1516.30,808.70 L1518.30,804.49 L1520.30,800.31 L1522.30,796.14 L1524.30,791.99 L1526.30,787.86 L1528.30,783.77 L1530.30,779.70 L1532.30,775.66 L1534.30,771.66 L1536.30,767.69 L1538.30,763.76 L1540.30,759.88 L1542.30,756.03 L1544.30,752.24 L1546.30,748.49 L1548.30,744.79 L1550.30,741.15 L1552.30,737.56 L1554.30,734.04 L1556.30,730.57 L1558.30,727.17 L1560.30,723.83 L1562.30,720.56 L1564.30,717.36 L1566.30,714.23 L1568.30,711.17 L1570.30,708.17 L1572.30,705.23 L1574.30,702.34 L1576.30,699.51 L1578.30,696.72 L1580.30,693.99 L1582.30,691.29 L1584.30,688.64 L1586.30,686.02 L1588.30,683.44 L1590.30,680.89 L1592.30,678.36 L1594.30,675.86 L1596.30,673.38 L1598.30,670.92 L1600.30,668.47 L1602.30,666.03 L1604.30,663.61 L1606.30,661.18 L1608.30,658.76 L1610.30,656.35 L1612.30,653.93 L1614.30,651.52 L1616.30,649.11 L1618.30,646.70 L1620.30,644.29 L1622.30,641.88 L1624.30,639.47 L1626.30,637.05 L1628.30,634.64 L1630.30,632.21 L1632.30,629.79 L1634.30,627.36 L1636.30,624.92 L1638.30,622.48 L1640.30,620.03 L1642.30,617.57 L1644.30,615.10 L1646.30,612.63 L1648.30,610.14 L1650.30,607.64 L1652.30,605.14 L1654.30,602.62 L1656.30,600.08 L1658.30,597.54 L1660.30,594.98 L1662.30,592.40 L1664.30,589.82 L1666.30,587.22 L1668.30,584.61 L1670.30,582.00 L1672.30,579.38 L1674.30,576.76 L1676.30,574.15 L1678.30,571.53 L1680.30,568.93 L1682.30,566.33 L1684.30,563.75 L1686.30,561.18 L1688.30,558.62 L1690.30,556.09 L1692.30,553.57 L1694.30,551.08 L1696.30,548.61 L1698.30,546.16 L1700.30,543.73 L1702.30,541.33 L1704.30,538.95 L1706.30,536.60 L1708.30,534.27 L1710.30,531.96 L1712.30,529.68 L1714.30,527.43 L1716.30,525.21 L1718.30,523.01 L1720.30,520.84 L1722.30,518.70 L1724.30,516.59 L1726.30,514.50 L1728.30,512.45 L1730.30,510.43 L1732.30,508.44 L1734.30,506.49 L1736.30,504.56 L1738.30,502.67 L1740.30,500.81 L1742.30,498.99 L1744.30,497.20 L1746.30,495.44 L1748.30,493.72 L1750.30,492.04 L1752.30,490.40 L1754.30,488.79 L1756.30,487.22 L1758.30,485.69 L1760.30,484.20 L1762.30,482.74 L1764.30,481.33 L1766.30,479.96 L1768.30,478.63 L1770.30,477.34 L1772.30,476.09 L1774.30,474.89 L1776.30,473.73 L1778.30,472.61 L1780.30,471.54 L1782.30,470.51 L1784.30,469.53 L1786.30,468.59 L1788.30,467.71 L1790.30,466.86 L1792.30,466.07 L1794.30,465.33 L1796.30,464.63 L1798.30,463.98 L1800.30,463.38 L1802.30,462.84 L1804.30,462.34 L1806.30,461.90 L1808.30,461.51 L1810.30,461.17 L1812.30,460.88 L1814.30,460.65 L1816.30,460.47 L1818.30,460.35 L1820.30,460.28 L1822.30,460.27 L1824.30,460.32 L1826.30,460.42 L1828.30,460.58 L1830.30,460.80 L1832.30,461.08 L1834.30,461.42 L1836.30,461.83 L1838.30,462.29 L1840.30,462.81 L1842.30,463.40 L1844.30,464.05 L1846.30,464.76 L1848.30,465.54 L1850.30,466.38 L1852.30,467.29 L1854.30,468.26 L1856.30,469.30 L1858.30,470.41 L1860.30,471.59 L1862.30,472.83 L1864.30,474.15 L1866.30,475.53 L1868.30,476.99 L1870.30,478.51 L1872.30,480.11 L1874.30,481.78 L1876.30,483.52 L1878.30,485.34 L1880.30,487.23 L1882.30,489.19 L1884.30,491.23 L1886.30,493.35 L1888.30,495.54 L1890.30,497.81 L1892.30,500.15 L1894.30,502.57 L1896.30,505.05 L1898.30,507.60 L1900.30,510.22 L1902.30,512.90 L1904.30,515.64 L1906.30,518.44 L1908.30,521.29 L1910.30,524.20 L1912.30,527.16 L1914.30,530.17 L1916.40,533.39"/>
<path class="fit" d="M1136.30,517.13 L1138.30,525.91 L1140.30,534.60 L1142.30,543.20 L1144.30,551.72 L1146.30,560.15 L1148.30,568.50 L1150.30,576.77 L1152.30,584.95 L1154.30,593.05 L1156.30,601.07 L1158.30,609.00 L1160.30,616.85 L1162.30,624.62 L1164.30,632.32 L1166.30,639.92 L1168.30,647.45 L1170.30,654.90 L1172.30,662.27 L1174.30,669.57 L1176.30,676.78 L1178.30,683.91 L1180.30,690.97 L1182.30,697.95 L1184.30,704.85 L1186.30,711.68 L1188.30,718.43 L1190.30,725.10 L1192.30,731.70 L1194.30,738.22 L1196.30,744.67 L1198.30,751.05 L1200.30,757.35 L1202.30,763.58 L1204.30,769.74 L1206.30,775.82 L1208.30,781.83 L1210.30,787.77 L1212.30,793.64 L1214.30,799.43 L1216.30,805.16 L1218.30,810.82 L1220.30,816.40 L1222.30,821.92 L1224.30,827.37 L1226.30,832.75 L1228.30,838.06 L1230.30,843.30 L1232.30,848.46 L1234.30,853.56 L1236.30,858.58 L1238.30,863.53 L1240.30,868.41 L1242.30,873.22 L1244.30,877.95 L1246.30,882.60 L1248.30,887.18 L1250.30,891.69 L1252.30,896.12 L1254.30,900.48 L1256.30,904.75 L1258.30,908.96 L1260.30,913.08 L1262.30,917.13 L1264.30,921.10 L1266.30,924.99 L1268.30,928.80 L1270.30,932.53 L1272.30,936.18 L1274.30,939.75 L1276.30,943.24 L1278.30,946.65 L1280.30,949.98 L1282.30,953.23 L1284.30,956.39 L1286.30,959.47 L1288.30,962.47 L1290.30,965.38 L1292.30,968.21 L1294.30,970.96 L1296.30,973.62 L1298.30,976.20 L1300.30,978.69 L1302.30,981.10 L1304.30,983.42 L1306.30,985.66 L1308.30,987.81 L1310.30,989.87 L1312.30,991.85 L1314.30,993.74 L1316.30,995.55 L1318.30,997.27 L1320.30,998.90 L1322.30,1000.44 L1324.30,1001.89 L1326.30,1003.26 L1328.30,1004.54 L1330.30,1005.73 L1332.30,1006.83 L1334.30,1007.84 L1336.30,1008.76 L1338.30,1009.59 L1340.30,1010.33 L1342.30,1010.98 L1344.30,1011.54 L1346.30,1012.01 L1348.30,1012.38 L1350.30,1012.67 L1352.30,1012.86 L1354.30,1012.96 L1356.30,1012.97 L1358.30,1012.89 L1360.30,1012.71 L1362.30,1012.45 L1364.30,1012.10 L1366.30,1011.65 L1368.30,1011.11 L1370.30,1010.49 L1372.30,1009.77 L1374.30,1008.97 L1376.30,1008.08 L1378.30,1007.10 L1380.30,1006.03 L1382.30,1004.88 L1384.30,1003.63 L1386.30,1002.30 L1388.30,1000.89 L1390.30,999.38 L1392.30,997.79 L1394.30,996.12 L1396.30,994.36 L1398.30,992.52 L1400.30,990.59 L1402.30,988.57 L1404.30,986.48 L1406.30,984.29 L1408.30,982.03 L1410.30,979.68 L1412.30,977.25 L1414.30,974.74 L1416.30,972.15 L1418.30,969.48 L1420.30,966.73 L1422.30,963.91 L1424.30,961.00 L1426.30,958.03 L1428.30,954.98 L1430.30,951.86 L1432.30,948.68 L1434.30,945.43 L1436.30,942.12 L1438.30,938.75 L1440.30,935.31 L1442.30,931.82 L1444.30,928.28 L1446.30,924.68 L1448.30,921.03 L1450.30,917.33 L1452.30,913.58 L1454.30,909.79 L1456.30,905.96 L1458.30,902.08 L1460.30,898.17 L1462.30,894.22 L1464.30,890.24 L1466.30,886.22 L1468.30,882.17 L1470.30,878.09 L1472.30,873.99 L1474.30,869.86 L1476.30,865.70 L1478.30,861.53 L1480.30,857.33 L1482.30,853.12 L1484.30,848.89 L1486.30,844.64 L1488.30,840.39 L1490.30,836.12 L1492.30,831.84 L1494.30,827.55 L1496.30,823.26 L1498.30,818.97 L1500.30,814.67 L1502.30,810.38 L1504.30,806.08 L1506.30,801.79 L1508.30,797.51 L1510.30,793.23 L1512.30,788.96 L1514.30,784.70 L1516.30,780.46 L1518.30,776.23 L1520.30,772.01 L1522.30,767.82 L1524.30,763.64 L1526.30,759.49 L1528.30,755.36 L1530.30,751.27 L1532.30,747.20 L1534.30,743.17 L1536.30,739.17 L1538.30,735.21 L1540.30,731.29 L1542.30,727.42 L1544.30,723.59 L1546.30,719.81 L1548.30,716.08 L1550.30,712.40 L1552.30,708.78 L1554.30,705.21 L1556.30,701.69 L1558.30,698.23 L1560.30,694.82 L1562.30,691.48 L1564.30,688.19 L1566.30,684.97 L1568.30,681.80 L1570.30,678.68 L1572.30,675.62 L1574.30,672.61 L1576.30,669.64 L1578.30,666.73 L1580.30,663.86 L1582.30,661.04 L1584.30,658.26 L1586.30,655.52 L1588.30,652.81 L1590.30,650.14 L1592.30,647.49 L1594.30,644.87 L1596.30,642.28 L1598.30,639.70 L1600.30,637.15 L1602.30,634.60 L1604.30,632.07 L1606.30,629.55 L1608.30,627.03 L1610.30,624.52 L1612.30,622.01 L1614.30,619.51 L1616.30,617.00 L1618.30,614.49 L1620.30,611.97 L1622.30,609.45 L1624.30,606.92 L1626.30,604.39 L1628.30,601.84 L1630.30,599.29 L1632.30,596.73 L1634.30,594.15 L1636.30,591.56 L1638.30,588.96 L1640.30,586.34 L1642.30,583.70 L1644.30,581.05 L1646.30,578.38 L1648.30,575.70 L1650.30,572.99 L1652.30,570.27 L1654.30,567.53 L1656.30,564.77 L1658.30,562.00 L1660.30,559.21 L1662.30,556.41 L1664.30,553.60 L1666.30,550.77 L1668.30,547.93 L1670.30,545.09 L1672.30,542.25 L1674.30,539.40 L1676.30,536.55 L1678.30,533.70 L1680.30,530.86 L1682.30,528.03 L1684.30,525.20 L1686.30,522.38 L1688.30,519.58 L1690.30,516.79 L1692.30,514.02 L1694.30,511.27 L1696.30,508.54 L1698.30,505.83 L1700.30,503.14 L1702.30,500.47 L1704.30,497.82 L1706.30,495.21 L1708.30,492.61 L1710.30,490.05 L1712.30,487.51 L1714.30,485.01 L1716.30,482.53 L1718.30,480.08 L1720.30,477.67 L1722.30,475.28 L1724.30,472.92 L1726.30,470.60 L1728.30,468.30 L1730.30,466.04 L1732.30,463.82 L1734.30,461.62 L1736.30,459.46 L1738.30,457.33 L1740.30,455.24 L1742.30,453.18 L1744.30,451.15 L1746.30,449.16 L1748.30,447.21 L1750.30,445.30 L1752.30,443.42 L1754.30,441.57 L1756.30,439.77 L1758.30,438.00 L1760.30,436.27 L1762.30,434.57 L1764.30,432.92 L1766.30,431.30 L1768.30,429.72 L1770.30,428.18 L1772.30,426.67 L1774.30,425.21 L1776.30,423.78 L1778.30,422.39 L1780.30,421.04 L1782.30,419.73 L1784.30,418.45 L1786.30,417.21 L1788.30,416.00 L1790.30,414.83 L1792.30,413.69 L1794.30,412.58 L1796.30,411.50 L1798.30,410.45 L1800.30,409.43 L1802.30,408.43 L1804.30,407.47 L1806.30,406.53 L1808.30,405.61 L1810.30,404.72 L1812.30,403.85 L1814.30,403.01 L1816.30,402.19 L1818.30,401.39 L1820.30,400.61 L1822.30,399.86 L1824.30,399.12 L1826.30,398.41 L1828.30,397.72 L1830.30,397.04 L1832.30,396.39 L1834.30,395.75 L1836.30,395.13 L1838.30,394.53 L1840.30,393.94 L1842.30,393.37 L1844.30,392.82 L1846.30,392.27 L1848.30,391.74 L1850.30,391.22 L1852.30,390.72 L1854.30,390.22 L1856.30,389.73 L1858.30,389.25 L1860.30,388.78 L1862.30,388.33 L1864.30,387.88 L1866.30,387.44 L1868.30,387.00 L1870.30,386.58 L1872.30,386.17 L1874.30,385.77 L1876.30,385.38 L1878.30,385.00 L1880.30,384.62 L1882.30,384.26 L1884.30,383.91 L1886.30,383.56 L1888.30,383.23 L1890.30,382.90 L1892.30,382.59 L1894.30,382.28 L1896.30,381.97 L1898.30,381.67 L1900.30,381.37 L1902.30,381.07 L1904.30,380.78 L1906.30,380.48 L1908.30,380.18 L1910.30,379.88 L1912.30,379.57 L1914.30,379.25 L1916.40,378.91"/>
</g>
</svg></body></html>
